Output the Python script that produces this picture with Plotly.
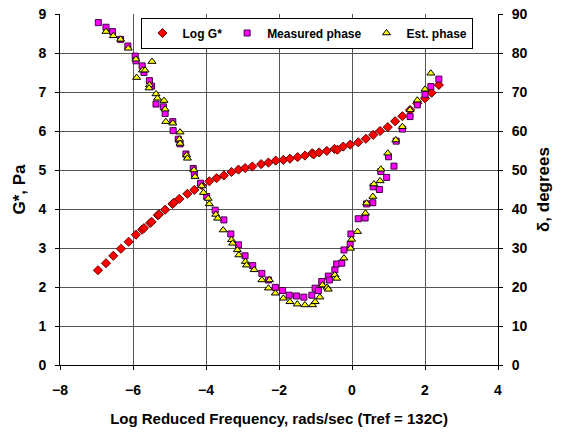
import plotly.graph_objects as go

# Log G* (left axis)
g_x = [-6.96, -6.74, -6.54, -6.33, -6.12, -5.92, -5.75, -5.70, -5.53, -5.49, -5.32, -5.29,
       -5.12, -4.92, -4.88, -4.73, -4.51, -4.32, -4.12, -3.91, -3.71, -3.51, -3.30, -3.11,
       -2.93, -2.73, -2.49, -2.29, -2.09, -1.88, -1.70, -1.49, -1.29, -1.09, -1.05, -0.90,
       -0.69, -0.48, -0.40, -0.24, -0.05, 0.17, 0.38, 0.58, 0.77, 0.98, 1.18, 1.38, 1.59,
       1.79, 2.00, 2.18, 2.38]
g_y = [2.43, 2.61, 2.80, 2.98, 3.16, 3.34, 3.47, 3.51, 3.64, 3.67, 3.84, 3.86,
       3.98, 4.13, 4.16, 4.26, 4.39, 4.49, 4.61, 4.71, 4.79, 4.86, 4.95, 5.01,
       5.05, 5.09, 5.15, 5.19, 5.24, 5.26, 5.29, 5.33, 5.37, 5.43, 5.40, 5.45,
       5.49, 5.54, 5.52, 5.60, 5.65, 5.71, 5.80, 5.90, 6.00, 6.10, 6.25, 6.38, 6.54,
       6.71, 6.84, 6.98, 7.18]

# Measured phase (right axis, degrees)
m_x = [-6.95, -6.74, -6.56, -6.34, -6.14, -5.94, -5.92, -5.75, -5.70, -5.55, -5.49, -5.37,
       -5.17, -5.12, -4.91, -4.90, -4.76, -4.71, -4.55, -4.35, -4.32, -4.15, -3.98, -3.75,
       -3.51, -3.32, -3.11, -2.93, -2.72, -2.47, -2.29, -2.10, -1.90, -1.72, -1.52, -1.32,
       -1.10, -1.01, -0.92, -0.83, -0.65, -0.62, -0.47, -0.42, -0.28, -0.22, -0.05, -0.03,
       0.17, 0.36, 0.40, 0.57, 0.58, 0.75, 0.79, 0.95, 1.00, 1.15, 1.21, 1.38, 1.59, 1.79,
       2.00, 2.16, 2.38]
m_y = [87.8, 86.6, 85.5, 83.5, 81.8, 79.2, 78.0, 76.7, 75.0, 72.9, 71.5, 66.9,
       66.2, 64.5, 62.4, 60.1, 57.9, 56.7, 54.1, 50.4, 49.1, 46.6, 43.2, 39.7,
       37.2, 33.6, 30.8, 28.0, 25.5, 23.5, 21.8, 19.9, 19.1, 17.9, 17.7, 17.4,
       17.9, 19.7, 19.1, 21.4, 22.8, 21.8, 24.4, 25.9, 26.1, 29.5, 30.9, 33.6,
       37.5, 37.7, 41.3, 41.6, 45.7, 45.0, 49.6, 48.1, 53.4, 51.0, 57.4, 60.5, 63.7, 66.7,
       69.4, 71.4, 73.3]

# Estimated phase (right axis, degrees)
e_x = [-6.74, -6.54, -6.34, -6.13, -5.92, -5.90, -5.74, -5.67, -5.48, -5.55, -5.56, -5.37,
       -5.33, -5.15, -5.12, -5.10, -4.91, -4.71, -4.73, -4.71, -4.53, -4.51, -4.33, -4.30,
       -4.12, -4.07, -3.94, -3.91, -3.73, -3.68, -3.53, -3.30, -3.27, -3.14, -3.10, -2.92,
       -2.89, -2.68, -2.47, -2.26, -2.29, -2.10, -1.88, -1.70, -1.50, -1.29, -1.08, -1.01,
       -0.88, -0.81, -0.68, -0.65, -0.47, -0.42, -0.22, -0.04, -0.01, 0.15, 0.37, 0.40,
       0.57, 0.60, 0.77, 0.79, 0.98, 1.20, 1.38, 1.59, 1.79, 2.00, 2.16]
e_y = [85.5, 84.4, 83.5, 81.2, 78.4, 73.7, 75.6, 75.6, 77.8, 71.8, 71.0, 69.5,
       68.4, 67.8, 65.6, 62.4, 62.0, 59.7, 57.9, 56.8, 53.8, 53.0, 50.0, 48.3,
       45.9, 44.2, 42.7, 41.3, 38.6, 37.6, 34.6, 32.1, 31.2, 29.5, 28.2, 26.5,
       25.6, 24.4, 21.8, 21.8, 19.7, 18.4, 17.1, 16.2, 15.6, 15.4, 15.4, 16.2,
       17.4, 20.5, 19.9, 19.4, 23.1, 22.2, 27.4, 29.9, 32.2, 34.2, 38.9, 41.5,
       43.2, 46.4, 47.2, 50.2, 54.3, 57.7, 61.1, 65.4, 67.9, 70.7, 74.8]

FONT = "Liberation Sans, Arial, sans-serif"

fig = go.Figure()
fig.add_trace(go.Scatter(x=g_x, y=g_y, mode="markers", name="Log G*",
                         marker=dict(symbol="diamond", size=7, color="#FF0000",
                                     line=dict(color="#600000", width=1))))
fig.add_trace(go.Scatter(x=m_x, y=m_y, mode="markers", name="Measured phase", yaxis="y2",
                         marker=dict(symbol="square", size=6, color="#FF00FF",
                                     line=dict(color="#400040", width=1))))
fig.add_trace(go.Scatter(x=e_x, y=e_y, mode="markers", name="Est. phase", yaxis="y2",
                         marker=dict(symbol="triangle-up", size=7, color="#FFFF00",
                                     line=dict(color="#000000", width=1))))

tickf = dict(family=FONT, size=14, color="black", weight="bold")
axis_common = dict(showline=True, linecolor="black", linewidth=1, mirror=False,
                   ticks="outside", ticklen=4, tickcolor="black",
                   tickfont=tickf, zeroline=False, automargin=False)

fig.update_layout(
    width=561, height=434,
    margin=dict(l=60, r=63, t=14, b=69),
    paper_bgcolor="white", plot_bgcolor="white",
    font=dict(family=FONT, color="black"),
    showlegend=True,
    legend=dict(orientation="h", x=0.565, xanchor="center", y=0.99, yanchor="top",
                bgcolor="white", bordercolor="black", borderwidth=1,
                font=dict(family=FONT, size=12, color="black", weight="bold"),
                itemwidth=30, tracegroupgap=0),
    xaxis=dict(range=[-8, 4], tickvals=[-8, -6, -4, -2, 0, 2, 4],
               showgrid=True, gridcolor="#555555", gridwidth=1,
               ticklabelstandoff=8,
               title=dict(text="Log Reduced Frequency, rads/sec (Tref = 132C)",
                          font=dict(family=FONT, size=15, color="black", weight="bold"),
                          standoff=16),
               **axis_common),
    yaxis=dict(range=[0, 9], dtick=1,
               showgrid=True, gridcolor="#555555", gridwidth=1,
               ticklabelstandoff=6,
               title=dict(text="G*, Pa", font=dict(family=FONT, size=17, color="black", weight="bold"),
                          standoff=8),
               **axis_common),
    yaxis2=dict(range=[0, 90], dtick=10, overlaying="y", side="right",
                showgrid=False,
                ticklabelstandoff=6,
                title=dict(text="δ, degrees", font=dict(family=FONT, size=17, color="black", weight="bold"),
                           standoff=10),
                **axis_common),
)

fig.write_html("out.html")
